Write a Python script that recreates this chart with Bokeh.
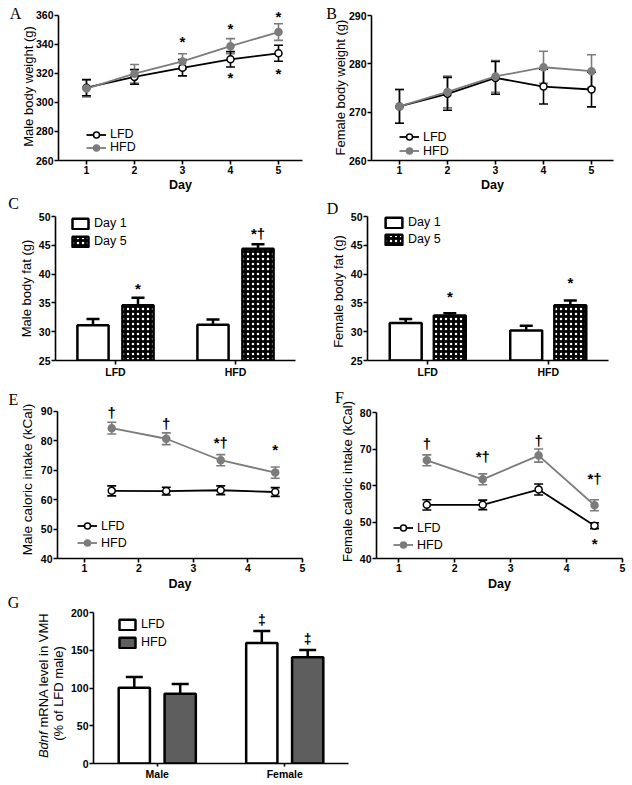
import math
from bokeh.plotting import figure
from bokeh.models import (ColumnDataSource, Whisker, TeeHead, Legend, LegendItem, Label,
                          FixedTicker, FactorRange)
from bokeh.transform import dodge
from bokeh.layouts import column, row
from bokeh.embed import file_html
from bokeh.resources import INLINE
from bokeh.core.properties import value

# ---------------- data ----------------
days = [1, 2, 3, 4, 5]
a_lfd = [310.2, 317.6, 323.9, 329.7, 333.9]
a_lfd_err = [5.6, 5.0, 5.6, 5.3, 5.5]
a_hfd = [309.6, 319.8, 328.3, 338.8, 348.5]
a_hfd_err = [5.8, 6.4, 5.3, 5.2, 5.7]
a_sig_x = [3, 4, 5, 4, 5]
a_sig_y = [344.0, 353.2, 361.6, 319.6, 321.9]
a_sig_t = ["*", "*", "*", "*", "*"]

b_lfd = [271.2, 273.8, 277.1, 275.3, 274.7]
b_lfd_err = [3.5, 3.4, 3.4, 3.6, 3.6]
b_hfd = [271.2, 274.2, 277.4, 279.3, 278.5]
b_hfd_err = [3.5, 3.3, 3.3, 3.3, 3.4]

fat_groups = ["LFD", "HFD"]
c_day1 = [31.1, 31.2]
c_day1_err = [1.1, 0.9]
c_day5 = [34.6, 44.4]
c_day5_err = [1.3, 0.8]
c_sig_y = [38.1, 47.5]
c_sig_t = ["*", "*†"]

d_day1 = [31.5, 30.2]
d_day1_err = [0.7, 0.85]
d_day5 = [32.8, 34.6]
d_day5_err = [0.4, 0.8]
d_sig_y = [36.7, 39.1]
d_sig_t = ["*", "*"]

intake_days = [1.5, 2.5, 3.5, 4.5]
e_lfd = [63.0, 62.9, 63.2, 62.6]
e_lfd_err = [1.7, 1.3, 1.5, 1.5]
e_hfd = [84.3, 80.7, 73.4, 69.2]
e_hfd_err = [2.0, 2.0, 1.9, 1.9]
e_sig_x = [1.5, 2.5, 3.5, 4.5]
e_sig_y = [90.6, 87.0, 80.3, 78.0]
e_sig_t = ["†", "†", "*†", "*"]

f_lfd = [54.7, 54.7, 58.9, 49.0]
f_lfd_err = [1.4, 1.3, 1.5, 0.8]
f_hfd = [66.9, 61.7, 68.2, 54.6]
f_hfd_err = [1.5, 1.5, 1.8, 1.5]
f_sig_x = [1.5, 2.5, 3.5, 4.5, 4.5]
f_sig_y = [72.3, 68.7, 73.2, 62.7, 44.8]
f_sig_t = ["†", "*†", "†", "*†", "*"]

sexes = ["Male", "Female"]
g_lfd = [100.5, 159.5]
g_lfd_err = [14.0, 16.0]
g_hfd = [92.3, 140.7]
g_hfd_err = [13.0, 9.7]
g_sig_lfd_y = [0, 190.0]
g_sig_hfd_y = [0, 165.0]
g_sig_t = ["", "‡"]

# ---------------- style ----------------
FONT = "Liberation Sans"
SERIF = "Liberation Serif"
GRAY = "#7c7c7c"
DARK = "#5e5e5e"


def base_fig(origin, size, frame, xr, yr, xlabel=None, xlab_standoff=1):
    ox, oy = origin
    w, h = size
    fl, fr, ft, fb = frame
    p = figure(width=w, height=h, x_range=xr, y_range=yr,
               min_border_left=fl - ox, min_border_right=ox + w - fr,
               min_border_top=ft - oy, min_border_bottom=oy + h - fb,
               output_backend="svg", toolbar_location=None, tools="")
    p.outline_line_color = None
    p.xgrid.visible = False
    p.ygrid.visible = False
    for ax in (p.xaxis[0], p.yaxis[0]):
        ax.axis_line_width = 1.6
        ax.axis_line_color = "black"
        ax.major_tick_line_width = 1.6
        ax.major_tick_line_color = "black"
        ax.major_tick_out = 4
        ax.major_tick_in = 0
        ax.minor_tick_line_color = None
        ax.major_label_text_font = FONT
        ax.major_label_text_font_style = "bold"
        ax.major_label_text_font_size = "10.5px"
        ax.major_label_text_color = "black"
        ax.major_label_standoff = 1
        ax.axis_label_text_font = FONT
        ax.axis_label_text_color = "black"
    if xlabel:
        p.xaxis[0].axis_label = xlabel
        p.xaxis[0].axis_label_text_font_size = "12.5px"
        p.xaxis[0].axis_label_text_font_style = "bold"
        p.xaxis[0].axis_label_standoff = xlab_standoff
    return p


def page_label(p, side, txt, px, py, frame, x0, y0, **kw):
    fl, fr, ft, fb = frame
    opts = dict(text_font=FONT, text_font_size="13px", text_color="black",
                text_align="center", text_baseline="middle")
    opts.update(kw)
    p.add_layout(Label(x=x0, y=y0, x_offset=px - fl, y_offset=fb - py, text=txt, **opts), side)


def letter(p, side, txt, px, py, frame, x0, y0):
    page_label(p, side, txt, px, py, frame, x0, y0, text_font=SERIF, text_font_size="16px")


def ylabel(p, side, txt, px, py, frame, x0, y0, fs="13px"):
    page_label(p, side, txt, px, py, frame, x0, y0, angle=math.pi / 2, text_font_size=fs)


def line_panel(p, x, lfd, lfd_err, hfd, hfd_err, cap=9):
    sl = ColumnDataSource(dict(x=x, y=lfd, lo=[m - e for m, e in zip(lfd, lfd_err)],
                               hi=[m + e for m, e in zip(lfd, lfd_err)]))
    sh = ColumnDataSource(dict(x=x, y=hfd, lo=[m - e for m, e in zip(hfd, hfd_err)],
                               hi=[m + e for m, e in zip(hfd, hfd_err)]))
    for s, c in ((sh, GRAY), (sl, "black")):
        p.add_layout(Whisker(source=s, base="x", lower="lo", upper="hi", line_color=c, line_width=1.6,
                             lower_head=TeeHead(size=cap, line_color=c, line_width=1.6),
                             upper_head=TeeHead(size=cap, line_color=c, line_width=1.6)))
    ll = p.line("x", "y", source=sl, line_color="black", line_width=1.8)
    lp = p.scatter("x", "y", source=sl, size=7, fill_color="white", line_color="black", line_width=1.5)
    hl = p.line("x", "y", source=sh, line_color=GRAY, line_width=1.8)
    hp = p.scatter("x", "y", source=sh, size=7, fill_color=GRAY, line_color=GRAY, line_width=1.5)
    return [LegendItem(label="LFD", renderers=[ll, lp]), LegendItem(label="HFD", renderers=[hl, hp])]


def add_legend(p, items, frame, glyph_left, centers, gw=20, gh=15, fs="12.5px"):
    fl, fr, ft, fb = frame
    for it, cy in zip(items, centers):
        leg = Legend(items=[it], location=(glyph_left - fl, fb - (cy + 8)), orientation="vertical",
                     background_fill_alpha=0, border_line_color=None, padding=0, margin=0,
                     spacing=0, glyph_width=gw, glyph_height=gh, label_height=gh,
                     label_standoff=4, label_text_font=FONT, label_text_font_size=fs,
                     label_text_color="black")
        p.add_layout(leg)


def sig(p, x, y, t, yoff=3, size="15px"):
    src = ColumnDataSource(dict(x=x, y=y, t=t))
    p.text(x="x", y="y", text="t", source=src, text_font=value(FONT),
           text_font_size=value(size), text_font_style="bold", text_align="center",
           text_baseline="middle", y_offset=yoff, text_color="black")


def cat_sig(p, groups, off, y, t, yoff=3, size="15px"):
    src = ColumnDataSource(dict(g=groups, y=y, t=t))
    p.text(x=dodge("g", off, range=p.x_range), y="y", text="t", source=src, text_font=value(FONT),
           text_font_size=value(size), text_font_style="bold", text_align="center",
           text_baseline="middle", y_offset=yoff, text_color="black")


def bar_panel(p, groups, v1, e1, v2, e2, off, width, base, style2, cap, names):
    src = ColumnDataSource(dict(g=groups, v1=v1, h1=[m + e for m, e in zip(v1, e1)],
                                v2=v2, h2=[m + e for m, e in zip(v2, e2)]))
    for top, hi, o in (("v1", "h1", -off), ("v2", "h2", off)):
        p.add_layout(Whisker(source=src, base=dodge("g", o, range=p.x_range), lower=top, upper=hi,
                             line_color="black", line_width=2.5, lower_head=None,
                             upper_head=TeeHead(size=cap, line_color="black", line_width=2.5)))
    r1 = p.vbar(x=dodge("g", -off, range=p.x_range), top="v1", bottom=base, width=width, source=src,
                fill_color="white", line_color="black", line_width=2.5)
    r2 = p.vbar(x=dodge("g", off, range=p.x_range), top="v2", bottom=base, width=width, source=src,
                line_color="black", line_width=2.5, **style2)
    return [LegendItem(label=names[0], renderers=[r1]), LegendItem(label=names[1], renderers=[r2])]


HATCH = dict(fill_color="black", hatch_pattern="dot", hatch_color="white", hatch_scale=5, hatch_weight=2.2)

# ---------------- A ----------------
fA = (58, 302, 3, 161)
pA = base_fig((0, 0), (308, 196), fA, (0.417, 5.5), (260, 368.2), "Day")
pA.xaxis[0].ticker = FixedTicker(ticks=days)
pA.yaxis[0].ticker = FixedTicker(ticks=[260, 280, 300, 320, 340, 360])
pA.yaxis[0].bounds = (260, 360)
itA = line_panel(pA, days, a_lfd, a_lfd_err, a_hfd, a_hfd_err)
sig(pA, a_sig_x, a_sig_y, a_sig_t)
add_legend(pA, itA, fA, 86, [134.5, 147.5])
letter(pA, "left", "A", 15, 14, fA, 0.417, 260)
ylabel(pA, "left", "Male body weight (g)", 27.5, 87, fA, 0.417, 260)

# ---------------- B ----------------
fB = (371, 613, 3, 160)
pB = base_fig((308, 0), (324, 196), fB, (0.417, 5.458), (260, 292.5), "Day")
pB.xaxis[0].ticker = FixedTicker(ticks=days)
pB.yaxis[0].ticker = FixedTicker(ticks=[260, 270, 280, 290])
pB.yaxis[0].bounds = (260, 290)
itB = line_panel(pB, days, b_lfd, b_lfd_err, b_hfd, b_hfd_err)
add_legend(pB, itB, fB, 399, [136, 150])
letter(pB, "left", "B", 331, 13, fB, 0.417, 260)
ylabel(pB, "left", "Female body weight (g)", 340, 87, fB, 0.417, 260)

# ---------------- C ----------------
fC = (55, 295, 216, 362)
pC = base_fig((0, 196), (308, 184), fC, FactorRange(*fat_groups), (25, 50))
pC.yaxis[0].ticker = FixedTicker(ticks=[25, 30, 35, 40, 45, 50])
itC = bar_panel(pC, fat_groups, c_day1, c_day1_err, c_day5, c_day5_err, 0.1875, 0.26, 25,
                HATCH, 13, ["Day 1", "Day 5"])
cat_sig(pC, fat_groups, 0.1875, c_sig_y, c_sig_t)
add_legend(pC, itC, fC, 70, [224, 242], gw=20, gh=13)
letter(pC, "left", "C", 13, 205, fC, 0, 25)
ylabel(pC, "left", "Male body fat (g)", 26, 290, fC, 0, 25)

# ---------------- D ----------------
fD = (367, 608, 216, 362)
pD = base_fig((308, 196), (324, 184), fD, FactorRange(*fat_groups), (25, 50))
pD.yaxis[0].ticker = FixedTicker(ticks=[25, 30, 35, 40, 45, 50])
itD = bar_panel(pD, fat_groups, d_day1, d_day1_err, d_day5, d_day5_err, 0.183, 0.265, 25,
                HATCH, 13, ["Day 1", "Day 5"])
cat_sig(pD, fat_groups, 0.183, d_sig_y, d_sig_t)
add_legend(pD, itD, fD, 383, [223, 240], gw=21, gh=13)
letter(pD, "left", "D", 332, 210, fD, 0, 25)
ylabel(pD, "left", "Female body fat (g)", 338, 293, fD, 0, 25)

# ---------------- E ----------------
fE = (57, 302, 400, 559)
pE = base_fig((0, 380), (308, 213), fE, (0.505, 5.0), (40, 93.7), "Day", 2)
pE.xaxis[0].ticker = FixedTicker(ticks=days)
pE.yaxis[0].ticker = FixedTicker(ticks=[40, 50, 60, 70, 80, 90])
pE.yaxis[0].bounds = (40, 90)
itE = line_panel(pE, intake_days, e_lfd, e_lfd_err, e_hfd, e_hfd_err)
sig(pE, e_sig_x, e_sig_y, e_sig_t)
add_legend(pE, itE, fE, 77, [526, 543])
letter(pE, "left", "E", 13, 400, fE, 0.505, 40)
ylabel(pE, "left", "Male caloric intake (kCal)", 26.5, 480, fE, 0.505, 40, fs="13.5px")

# ---------------- F ----------------
fF = (376, 622, 400, 559)
pF = base_fig((308, 380), (324, 213), fF, (0.6, 5.0), (40, 83.3), "Day", 2)
pF.xaxis[0].ticker = FixedTicker(ticks=days)
pF.yaxis[0].ticker = FixedTicker(ticks=[40, 50, 60, 70, 80])
pF.yaxis[0].bounds = (40, 80)
itF = line_panel(pF, intake_days, f_lfd, f_lfd_err, f_hfd, f_hfd_err)
sig(pF, f_sig_x, f_sig_y, f_sig_t)
add_legend(pF, itF, fF, 393, [528, 545])
letter(pF, "left", "F", 339, 398, fF, 0.6, 40)
ylabel(pF, "left", "Female caloric intake (kCal)", 347, 482, fF, 0.6, 40)

# ---------------- G ----------------
fG = (93, 348, 609, 763)
pG = base_fig((0, 593), (632, 191), fG, FactorRange(*sexes), (0, 204))
pG.yaxis[0].ticker = FixedTicker(ticks=[0, 50, 100, 150, 200])
pG.yaxis[0].bounds = (0, 200)
pG.xaxis[0].major_tick_out = 3
itG = bar_panel(pG, sexes, g_lfd, g_lfd_err, g_hfd, g_hfd_err, 0.18, 0.245, 0,
                dict(fill_color=DARK), 17, ["LFD", "HFD"])
cat_sig(pG, sexes, -0.18, g_sig_lfd_y, g_sig_t, yoff=0, size="14px")
cat_sig(pG, sexes, 0.18, g_sig_hfd_y, g_sig_t, yoff=0, size="14px")
add_legend(pG, itG, fG, 117, [623, 641], gw=20, gh=13)
letter(pG, "right", "G", 13, 602, fG, 0, 0)
page_label(pG, "right", "Bdnf", 43, 757.6, fG, 0, 0, angle=math.pi / 2, text_align="left",
           text_font_style="italic")
page_label(pG, "right", "mRNA level in VMH", 43, 727.0, fG, 0, 0, angle=math.pi / 2, text_align="left")
page_label(pG, "right", "(% of LFD male)", 58, 693, fG, 0, 0, angle=math.pi / 2)

layout = column(row(pA, pB), row(pC, pD), row(pE, pF), pG)
open("out.html", "w").write(file_html(layout, INLINE))
